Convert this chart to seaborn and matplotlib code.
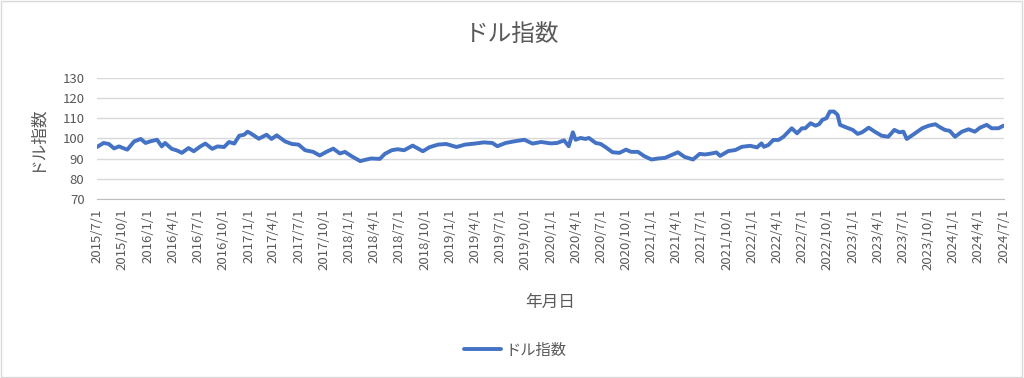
import matplotlib
matplotlib.use('Agg')
import matplotlib.pyplot as plt
import matplotlib.dates as mdates
from matplotlib.ticker import FuncFormatter
from matplotlib.patches import Rectangle
import pandas as pd
import seaborn as sns

# values
dates = [
    '2015-07-01', '2015-07-25', '2015-08-13', '2015-09-01', '2015-09-19', '2015-10-07',
    '2015-10-19', '2015-11-13', '2015-12-07', '2015-12-24', '2016-01-10', '2016-02-04',
    '2016-02-21', '2016-03-04', '2016-03-28', '2016-04-16', '2016-05-04', '2016-05-28',
    '2016-06-16', '2016-07-10', '2016-07-28', '2016-08-22', '2016-09-10', '2016-10-04',
    '2016-10-22', '2016-11-10', '2016-11-28', '2016-12-16', '2016-12-28', '2017-01-07',
    '2017-02-07', '2017-03-07', '2017-03-25', '2017-04-13', '2017-05-13', '2017-06-07',
    '2017-07-01', '2017-07-25', '2017-08-23', '2017-09-16', '2017-10-10', '2017-11-04',
    '2017-11-28', '2017-12-16', '2018-01-10', '2018-02-10', '2018-03-04', '2018-03-22',
    '2018-04-22', '2018-05-10', '2018-06-04', '2018-06-25', '2018-07-19', '2018-08-19',
    '2018-09-25', '2018-10-19', '2018-11-19', '2018-12-19', '2019-01-25', '2019-02-25',
    '2019-04-01', '2019-05-04', '2019-06-04', '2019-06-22', '2019-07-22', '2019-08-22',
    '2019-09-28', '2019-10-28', '2019-11-28', '2020-01-01', '2020-01-25', '2020-02-19',
    '2020-03-07', '2020-03-22', '2020-04-01', '2020-04-19', '2020-05-07', '2020-05-19',
    '2020-06-13', '2020-07-01', '2020-07-19', '2020-08-13', '2020-09-07', '2020-10-01',
    '2020-10-19', '2020-11-13', '2020-12-07', '2021-01-01', '2021-01-25', '2021-02-19',
    '2021-03-13', '2021-04-07', '2021-05-01', '2021-06-01', '2021-06-25', '2021-07-15',
    '2021-08-07', '2021-08-25', '2021-09-07', '2021-10-07', '2021-11-01', '2021-11-25',
    '2021-12-25', '2022-01-19', '2022-02-04', '2022-02-13', '2022-03-01', '2022-03-19',
    '2022-04-07', '2022-04-25', '2022-05-25', '2022-06-13', '2022-07-01', '2022-07-13',
    '2022-08-01', '2022-08-19', '2022-09-01', '2022-09-13', '2022-09-28', '2022-10-10',
    '2022-10-25', '2022-11-07', '2022-11-16', '2022-12-07', '2023-01-01', '2023-01-19',
    '2023-02-04', '2023-02-28', '2023-03-22', '2023-04-16', '2023-05-10', '2023-06-01',
    '2023-06-19', '2023-07-04', '2023-07-16', '2023-08-10', '2023-09-10', '2023-10-04',
    '2023-10-28', '2023-11-10', '2023-12-01', '2023-12-19', '2024-01-07', '2024-02-01',
    '2024-02-25', '2024-03-19', '2024-04-07', '2024-05-01', '2024-05-19', '2024-06-13',
    '2024-07-01',
]
dollar_index = [
    95.7, 97.7, 97.2, 95.0, 96.0, 95.0,
    94.4, 98.5, 99.7, 97.7, 98.5, 99.3,
    96.0, 97.7, 94.8, 94.0, 92.8, 95.2,
    93.6, 96.0, 97.4, 94.8, 96.0, 95.7,
    98.2, 97.4, 101.3, 101.8, 103.3, 102.6,
    99.8, 101.8, 99.7, 101.5, 98.5, 97.2,
    96.9, 94.1, 93.3, 91.5, 93.3, 94.9,
    92.5, 93.3, 91.1, 88.7, 89.5, 90.0,
    89.8, 92.3, 94.1, 94.6, 94.1, 96.4,
    93.6, 95.6, 96.9, 97.2, 95.7, 96.9,
    97.4, 98.0, 97.7, 96.1, 97.7, 98.5,
    99.3, 97.4, 98.2, 97.5, 97.7, 99.0,
    96.1, 103.0, 99.3, 100.2, 99.7, 100.2,
    97.7, 97.2, 95.6, 93.1, 92.8, 94.4,
    93.3, 93.3, 91.1, 89.5, 90.0, 90.3,
    91.6, 93.1, 90.8, 89.5, 92.3, 92.0,
    92.5, 93.0, 91.3, 93.7, 94.2, 95.8,
    96.3, 95.5, 97.5, 95.8, 96.7, 99.2,
    99.2, 100.8, 105.0, 102.5, 105.0, 105.0,
    107.5, 106.3, 107.0, 109.2, 110.0, 113.3,
    113.3, 111.7, 106.7, 105.5, 104.2, 102.2,
    103.0, 105.3, 103.3, 101.3, 100.8, 104.2,
    103.0, 103.3, 99.7, 102.0, 105.0, 106.3,
    107.0, 105.8, 104.2, 103.7, 100.8, 103.3,
    104.5, 103.3, 105.3, 106.7, 105.0, 105.0,
    106.3,
]
series_name = 'ドル指数'
y_ticks = [70, 80, 90, 100, 110, 120, 130]

df = pd.DataFrame({'date': pd.to_datetime(dates), 'value': dollar_index})

sns.set_style('white')
plt.rcParams['font.family'] = ['Noto Sans CJK JP', 'DejaVu Sans']

text_color = '#595959'
fig = plt.figure(figsize=(10.24, 3.78), dpi=100)
ax = fig.add_axes([0.0947, 0.474, 0.8853, 0.320])

sns.lineplot(data=df, x='date', y='value', ax=ax, color='#4472C4',
             linewidth=2.8, label=series_name)
ax.get_legend().remove()

ax.set_ylim(70, 130)
ax.set_yticks(y_ticks)
ax.set_xlim(pd.Timestamp('2015-07-01'), pd.Timestamp('2024-07-01'))
ax.xaxis.set_major_locator(mdates.MonthLocator(bymonth=[1, 4, 7, 10], bymonthday=1))
ax.xaxis.set_major_formatter(FuncFormatter(
    lambda v, pos: '{0.year}/{0.month}/{0.day}'.format(mdates.num2date(v))))

ax.grid(axis='y', color='#d9d9d9', linewidth=1.0)
ax.set_axisbelow(True)
for side in ['top', 'right', 'left']:
    ax.spines[side].set_visible(False)
ax.spines['bottom'].set_color('#bfbfbf')
ax.tick_params(axis='y', length=0, pad=9, labelsize=9.5, labelcolor=text_color)
ax.tick_params(axis='x', length=4, color='#bfbfbf', pad=3, labelsize=9.5,
               labelcolor=text_color, labelrotation=90)

ax.set_xlabel('年月日', fontsize=12, color=text_color)
ax.xaxis.set_label_coords(0.5, -0.79)
ax.set_ylabel(series_name, fontsize=12, color=text_color)
ax.yaxis.set_label_coords(-0.058, 0.5)

fig.text(0.5, 0.91, series_name, ha='center', va='center', fontsize=17, color=text_color)

handles, labels = ax.get_lines()[:1], [series_name]
fig.legend(handles, labels, loc='center', bbox_to_anchor=(0.503, 0.074), frameon=False,
           fontsize=11, labelcolor=text_color, handlelength=2.4, handletextpad=0.3)

fig.patches.append(Rectangle((0.001, 0.003), 0.997, 0.994, transform=fig.transFigure,
                             fill=False, edgecolor='#d9d9d9', linewidth=1.0))

plt.savefig('out.png', dpi=100)
